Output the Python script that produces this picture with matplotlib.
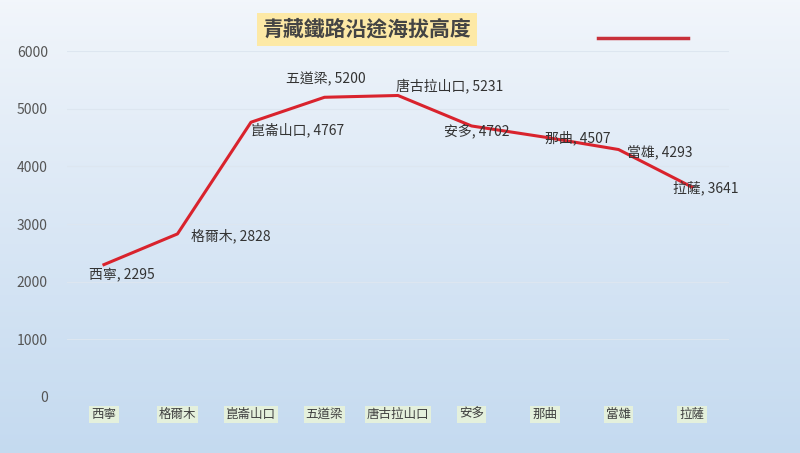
import numpy as np
import matplotlib
matplotlib.use('Agg')
import matplotlib.pyplot as plt
from matplotlib.lines import Line2D

plt.rcParams['font.family'] = ['Noto Sans CJK TC', 'DejaVu Sans']

# data
stations = ['西寧', '格爾木', '崑崙山口', '五道梁', '唐古拉山口', '安多', '那曲', '當雄', '拉薩']
altitude = [2295, 2828, 4767, 5200, 5231, 4702, 4507, 4293, 3641]
yticks = [0, 1000, 2000, 3000, 4000, 5000, 6000]

# label offsets (pixels) and alignment for each data label
lab_off = [(18, -11), (14, -2), (0, -8), (1, 18), (-2, 10), (5, -5), (0, -1), (8, -2), (14, -1)]
lab_ha = ['center', 'left', 'left', 'center', 'left', 'center', 'left', 'left', 'center']

fig = plt.figure(figsize=(8, 4.53), dpi=100)

# background gradient
bg = fig.add_axes([0, 0, 1, 1], zorder=-10)
grad = np.linspace(0, 1, 256).reshape(-1, 1)
top = np.array([0.95, 0.965, 0.985])
bot = np.array([0.77, 0.855, 0.94])
img = top + (bot - top) * grad[..., None] ** 0.9
bg.imshow(img, aspect='auto', extent=[0, 1, 0, 1])
bg.axis('off')

ax = fig.add_axes([0.084, 0.124, 0.827, 0.763])
ax.patch.set_alpha(0)
x = np.arange(len(stations))
ax.plot(x, altitude, color='#d9232d', lw=2.2, solid_joinstyle='round', zorder=3)
ax.set_xlim(-0.5, len(stations) - 0.5)
ax.set_ylim(0, 6000)
ax.set_yticks(yticks)
ax.set_yticklabels([str(v) for v in yticks], fontsize=10, color='#555555')
ax.set_xticks(x)
ax.set_xticklabels(stations, fontsize=9, color='#404040')
for t in ax.get_xticklabels():
    t.set_bbox(dict(facecolor='#e4f0dc', edgecolor='none', pad=1.5))
ax.tick_params(length=0, pad=8)
ax.tick_params(axis='y', pad=14)
ax.grid(axis='y', color='#dde6f0', lw=0.8)
for s in ax.spines.values():
    s.set_visible(False)

for xi, yi, name, off, ha in zip(x, altitude, stations, lab_off, lab_ha):
    ax.annotate(f'{name}, {yi}', (xi, yi), xytext=off, textcoords='offset pixels',
                ha=ha, va='center', fontsize=10, color='#333333', zorder=4)

fig.text(0.459, 0.935, '青藏鐵路沿途海拔高度', ha='center', va='center', fontsize=15,
         fontweight='bold', color='#444444',
         bbox=dict(facecolor='#fde9a6', edgecolor='none', pad=4))

fig.add_artist(Line2D([0.748, 0.86], [0.916, 0.916], color='#c8303a', lw=2.5,
                      transform=fig.transFigure))

fig.savefig('out.png', dpi=100)
